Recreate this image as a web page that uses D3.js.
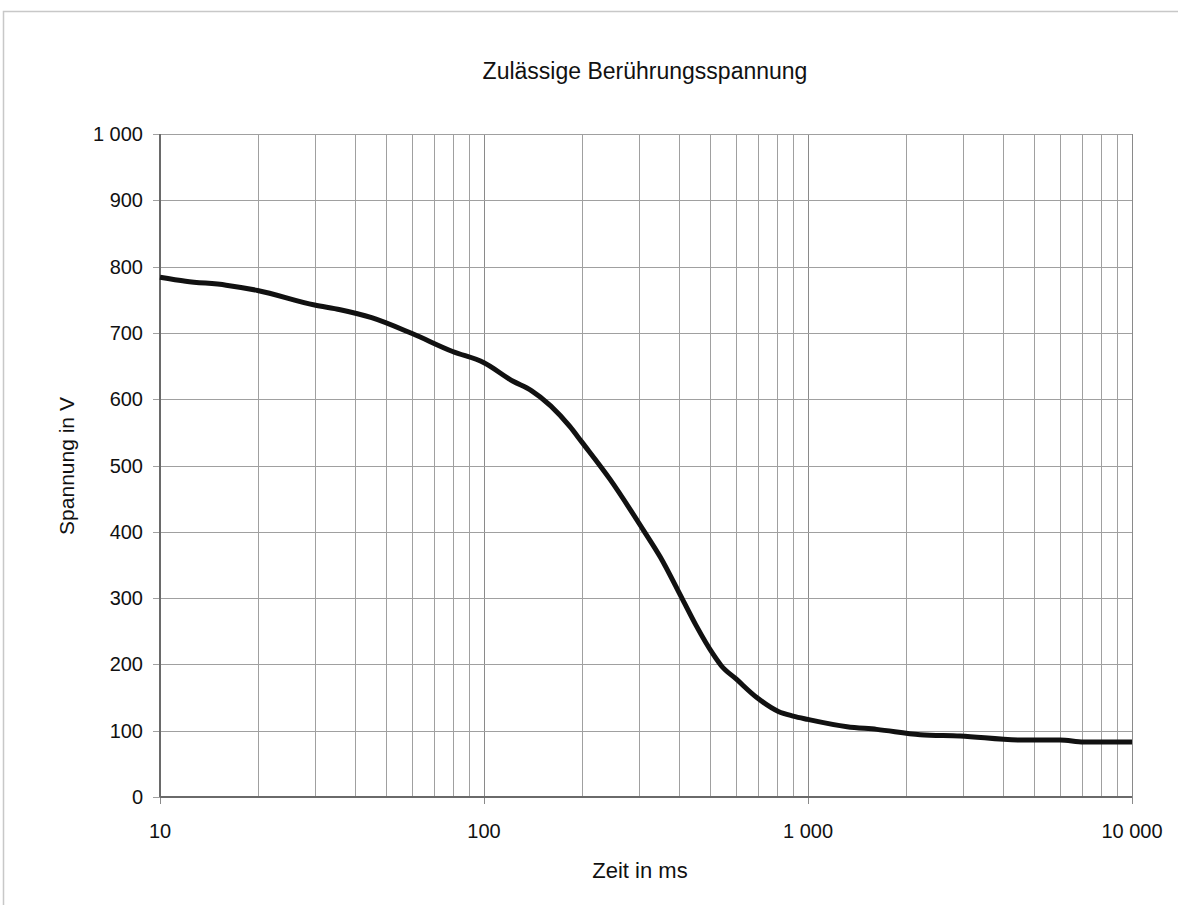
<!DOCTYPE html>
<html>
<head>
<meta charset="utf-8">
<script src="https://cdn.jsdelivr.net/npm/d3@7"></script>
<style>
  body { margin: 0; background: #fff; }
  svg text { font-family: "Liberation Sans", Arial, sans-serif; fill: #111; }
</style>
</head>
<body>
<div id="chart"></div>
<script>
// time in ms, permitted touch voltage in V
var zeit = [10, 12, 16, 20, 30, 36, 45, 60, 80, 100, 123, 140, 184, 200, 245, 310, 350, 410, 450,
            510, 540, 600, 695, 810, 900, 1000, 1320, 1630, 2220, 2950, 4500, 6000, 7100, 10000];
var spannung = [784, 778, 772, 764, 742, 735, 723, 699, 672, 655, 627, 613, 559, 536, 479, 403, 362, 298, 260,
                215, 198, 178, 150, 129, 122, 117, 106, 102, 94, 92, 86, 86, 83, 83];

var yTicks = [0, 100, 200, 300, 400, 500, 600, 700, 800, 900, 1000];
var xMajor = [10, 100, 1000, 10000];
var xLabels = ["10", "100", "1 000", "10 000"];
var yLabel = function(v) { return v >= 1000 ? "1 000" : String(v); };

var width = 1178, height = 905;
var margin = { left: 160, right: 46, top: 134, bottom: 108 };

var svg = d3.select("#chart").append("svg")
    .attr("width", width)
    .attr("height", height);

// outer frame (only top and left edges are visible)
svg.append("path")
    .attr("d", "M3.5," + height + "V11.5H" + width)
    .attr("fill", "none")
    .attr("stroke", "#c8c8c8")
    .attr("stroke-width", 1.5);

var x = d3.scaleLog().domain([10, 10000]).range([margin.left, width - margin.right]);
var y = d3.scaleLinear().domain([0, 1000]).range([height - margin.bottom, margin.top]);

// minor vertical grid lines
var minor = [];
[10, 100, 1000].forEach(function(d) {
  for (var k = 2; k <= 9; k++) minor.push(d * k);
});

svg.append("g").selectAll("line").data(minor).enter().append("line")
    .attr("x1", function(d) { return Math.round(x(d)) + 0.5; })
    .attr("x2", function(d) { return Math.round(x(d)) + 0.5; })
    .attr("y1", y(0)).attr("y2", y(1000))
    .attr("stroke", "#a0a0a0").attr("stroke-width", 1);

// major vertical lines with little ticks below the axis
svg.append("g").selectAll("line").data(xMajor).enter().append("line")
    .attr("x1", function(d) { return Math.round(x(d)) + 0.5; })
    .attr("x2", function(d) { return Math.round(x(d)) + 0.5; })
    .attr("y1", y(0) + 7).attr("y2", y(1000))
    .attr("stroke", "#8a8a8a").attr("stroke-width", 1);

// horizontal grid lines, sticking out left of the axis
svg.append("g").selectAll("line").data(yTicks).enter().append("line")
    .attr("x1", x(10) - 7).attr("x2", x(10000))
    .attr("y1", function(d) { return Math.round(y(d)) + 0.5; })
    .attr("y2", function(d) { return Math.round(y(d)) + 0.5; })
    .attr("stroke", "#a0a0a0").attr("stroke-width", 1);

// axis lines
svg.append("line")
    .attr("x1", x(10)).attr("x2", x(10))
    .attr("y1", y(0)).attr("y2", y(1000))
    .attr("stroke", "#6a6a6a").attr("stroke-width", 2);
svg.append("line")
    .attr("x1", x(10)).attr("x2", x(10000))
    .attr("y1", y(0)).attr("y2", y(0))
    .attr("stroke", "#6a6a6a").attr("stroke-width", 2);

// tick labels
svg.append("g").selectAll("text").data(yTicks).enter().append("text")
    .attr("x", x(10) - 17)
    .attr("y", function(d) { return y(d); })
    .attr("dy", "0.35em")
    .attr("text-anchor", "end")
    .style("font-size", "20px")
    .text(yLabel);

svg.append("g").selectAll("text").data(xMajor).enter().append("text")
    .attr("x", function(d) { return x(d); })
    .attr("y", y(0) + 41)
    .attr("text-anchor", "middle")
    .style("font-size", "20px")
    .text(function(d, i) { return xLabels[i]; });

// curve
var line = d3.line()
    .x(function(d, i) { return x(zeit[i]); })
    .y(function(d) { return y(d); })
    .curve(d3.curveMonotoneX);

svg.append("path")
    .datum(spannung)
    .attr("d", line)
    .attr("fill", "none")
    .attr("stroke", "#111")
    .attr("stroke-width", 5)
    .attr("stroke-linejoin", "round");

// titles
svg.append("text")
    .attr("x", 645).attr("y", 79)
    .attr("text-anchor", "middle")
    .style("font-size", "23px")
    .text("Zulässige Berührungsspannung");

svg.append("text")
    .attr("x", 640).attr("y", 878)
    .attr("text-anchor", "middle")
    .style("font-size", "22px")
    .text("Zeit in ms");

svg.append("text")
    .attr("transform", "translate(74,466) rotate(-90)")
    .attr("text-anchor", "middle")
    .style("font-size", "21px")
    .text("Spannung in V");
</script>
</body>
</html>
